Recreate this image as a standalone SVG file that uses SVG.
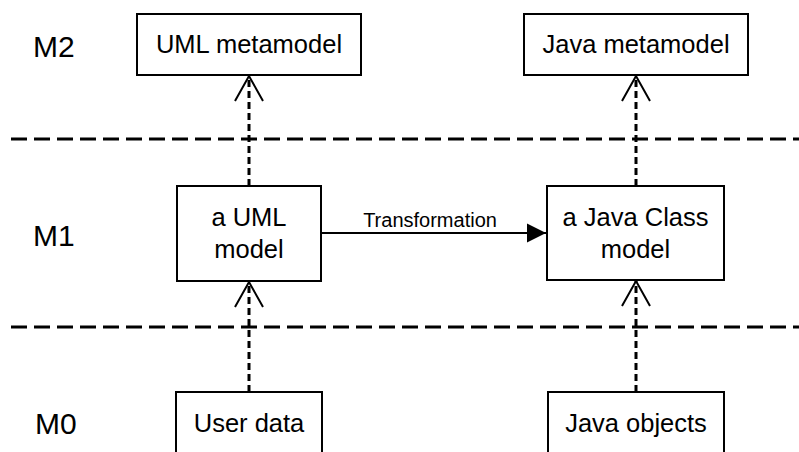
<svg xmlns="http://www.w3.org/2000/svg" width="799" height="452" viewBox="0 0 799 452">
<style>
  .box { fill: #ffffff; stroke: #000000; stroke-width: 2; }
  .txt { font-family: "Liberation Sans", Arial, sans-serif; font-size: 25.5px; fill: #000000; text-anchor: middle; }
  .lvl { font-family: "Liberation Sans", Arial, sans-serif; font-size: 30px; fill: #000000; }
  .lbl { font-family: "Liberation Sans", Arial, sans-serif; font-size: 20px; fill: #000000; text-anchor: middle; }
  .sep { stroke: #000000; stroke-width: 3; stroke-dasharray: 16 7; fill: none; }
  .dep { stroke: #000000; stroke-width: 3; stroke-dasharray: 7 4; fill: none; marker-end: url(#open); }
  .flow { stroke: #000000; stroke-width: 2; fill: none; marker-end: url(#filled); }
</style>
<defs>
  <marker id="open" markerUnits="userSpaceOnUse" viewBox="-27 -16 30 32" refX="0" refY="0" markerWidth="30" markerHeight="32" orient="auto">
    <path d="M -25 -14 L 0 0 L -25 14" fill="none" stroke="#000000" stroke-width="2" stroke-dasharray="none"/>
  </marker>
  <marker id="filled" markerUnits="userSpaceOnUse" viewBox="-20 -10 21 20" refX="0" refY="0" markerWidth="21" markerHeight="20" orient="auto">
    <path d="M -19 -9.5 L 0 0 L -19 9.5 Z" fill="#000000" stroke="none"/>
  </marker>
</defs>
<rect width="799" height="452" fill="#ffffff"/>

<g id="levels">
  <text class="lvl" x="33" y="57">M2</text>
  <text class="lvl" x="33" y="246">M1</text>
  <text class="lvl" x="35" y="434">M0</text>
  <line class="sep" x1="11" y1="139" x2="799" y2="139"/>
  <line class="sep" x1="11" y1="327" x2="799" y2="327"/>
</g>

<g id="connectors">
  <line class="dep" x1="249" y1="186" x2="249" y2="76"/>
  <line class="dep" x1="636" y1="186" x2="636" y2="76"/>
  <line class="dep" x1="249" y1="392" x2="249" y2="282"/>
  <line class="dep" x1="636" y1="392" x2="636" y2="281"/>
  <line class="flow" x1="322" y1="233" x2="546" y2="233"/>
  <text class="lbl" x="430" y="227">Transformation</text>
</g>

<g id="uml-metamodel">
  <rect class="box" x="137" y="14" width="224" height="61"/>
  <text class="txt" x="249" y="53">UML metamodel</text>
</g>
<g id="java-metamodel">
  <rect class="box" x="524" y="14" width="224" height="61"/>
  <text class="txt" x="636" y="53">Java metamodel</text>
</g>
<g id="uml-model">
  <rect class="box" x="177" y="186" width="144" height="95"/>
  <text class="txt" x="249" y="226">a UML</text>
  <text class="txt" x="249" y="258">model</text>
</g>
<g id="java-class-model">
  <rect class="box" x="547" y="186" width="177" height="94"/>
  <text class="txt" x="635.5" y="226">a Java Class</text>
  <text class="txt" x="635.5" y="258">model</text>
</g>
<g id="user-data">
  <rect class="box" x="176" y="392" width="146" height="80"/>
  <text class="txt" x="249" y="432">User data</text>
</g>
<g id="java-objects">
  <rect class="box" x="548" y="392" width="176" height="80"/>
  <text class="txt" x="636" y="432">Java objects</text>
</g>
</svg>
